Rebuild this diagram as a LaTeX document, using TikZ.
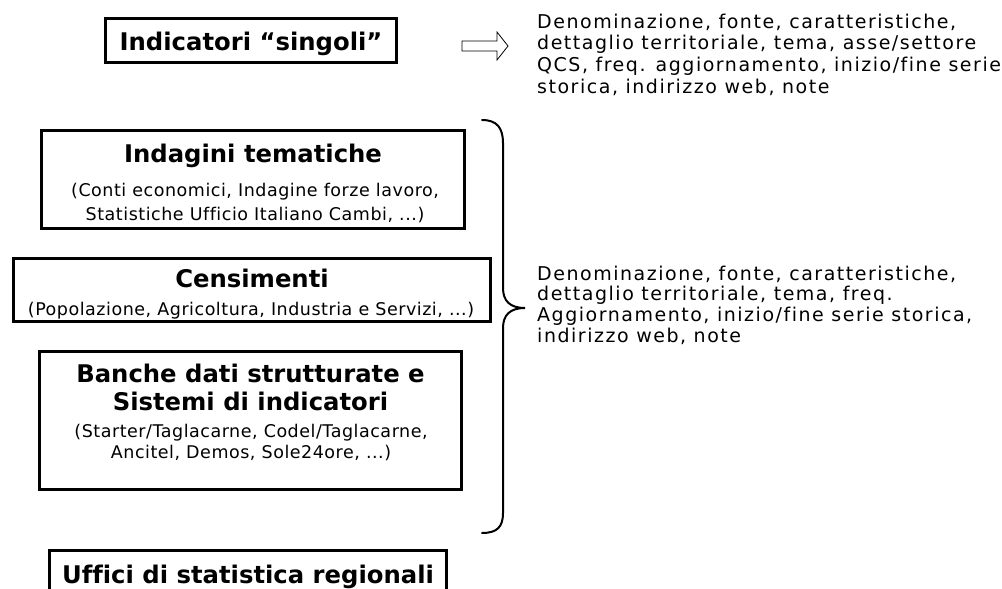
\documentclass[tikz,border=0pt]{standalone}
\usepackage{fontspec}
\setmainfont[Ligatures=NoCommon]{DejaVu Sans}
\newfontfamily\descfont[Ligatures=NoCommon,LetterSpace=8]{DejaVu Sans}
\newfontfamily\subfont[Ligatures=NoCommon,LetterSpace=3]{DejaVu Sans}
\begin{document}
\begin{tikzpicture}[x=1pt,y=-1pt,
  box/.style={draw, line width=3pt, inner sep=0pt},
  ttl/.style={font=\bfseries\fontsize{24.3}{28}\selectfont, anchor=base, inner sep=0pt},
  sub/.style={font=\subfont\fontsize{17.5}{21}\selectfont, anchor=base, inner sep=0pt},
  desc/.style={font=\descfont\fontsize{19}{21.7}\selectfont, anchor=base west, inner sep=0pt},
  brace/.style={line width=2pt, line cap=round},
  blockarrow/.style={draw, line width=0.8pt, line join=miter}]
\useasboundingbox (0,0) rectangle (1002,589);
\clip (0,0) rectangle (1002,589);

% box 1
\node[box, minimum width=291pt, minimum height=44pt] (b1) at (250.5,40) {};
\node[ttl] (t1) at (251,50) {Indicatori “singoli”};

% block arrow
\coordinate (ar) at (462,46);
\draw[blockarrow] (ar) ++(0,-5) -- ++(35,0) -- ++(0,-9) -- ++(11,14) -- ++(-11,14) -- ++(0,-9) -- ++(-35,0) -- cycle;

% description 1
\node[desc] (d1) at (537,28) {\begin{tabular}[t]{@{}l@{}}Denominazione, fonte, caratteristiche,\\dettaglio territoriale, tema, asse/settore\\QCS, freq. aggiornamento, inizio/fine serie\\storica, indirizzo web, note\end{tabular}};

% box 2
\node[box, minimum width=423pt, minimum height=98pt] (b2) at (253,179.5) {};
\node[ttl] (t2) at (253,162) {Indagini tematiche};
\node[sub, font=\subfont\fontsize{17.5}{24}\selectfont] (s2) at (255,196) {\begin{tabular}[t]{@{}c@{}}(Conti economici, Indagine forze lavoro,\\Statistiche Ufficio Italiano Cambi, ...)\end{tabular}};

% box 3
\node[box, minimum width=477pt, minimum height=63pt] (b3) at (252,290) {};
\node[ttl] (t3) at (252,287) {Censimenti};
\node[sub] (s3) at (251,315) {(Popolazione, Agricoltura, Industria e Servizi, ...)};

% box 4
\node[box, minimum width=422pt, minimum height=138pt] (b4) at (250.5,420.5) {};
\node[ttl] (t4) at (250.5,382) {\begin{tabular}[t]{@{}c@{}}Banche dati strutturate e\\Sistemi di indicatori\end{tabular}};
\node[sub] (s4) at (251,437) {\begin{tabular}[t]{@{}c@{}}(Starter/Taglacarne, Codel/Taglacarne,\\Ancitel, Demos, Sole24ore, ...)\end{tabular}};

% brace
\coordinate (bt) at (482,120);
\coordinate (bm) at (525,308);
\coordinate (bb) at (482,533);
\draw[brace] (bt) .. controls (497,120) and (503,128) .. (503,143) -- (503,288)
  .. controls (503,301) and (510,308) .. (bm)
  .. controls (510,308) and (503,315) .. (503,328) -- (503,513)
  .. controls (503,527) and (497,533) .. (bb);

% description 2
\node[desc, font=\descfont\fontsize{19}{20.8}\selectfont] (d2) at (537,280) {\begin{tabular}[t]{@{}l@{}}Denominazione, fonte, caratteristiche,\\dettaglio territoriale, tema, freq.\\Aggiornamento, inizio/fine serie storica,\\indirizzo web, note\end{tabular}};

% box 5
\node[box, minimum width=397pt, minimum height=70pt] (b5) at (248,585.5) {};
\node[ttl] (t5) at (248,583) {Uffici di statistica regionali};
\end{tikzpicture}
\end{document}
